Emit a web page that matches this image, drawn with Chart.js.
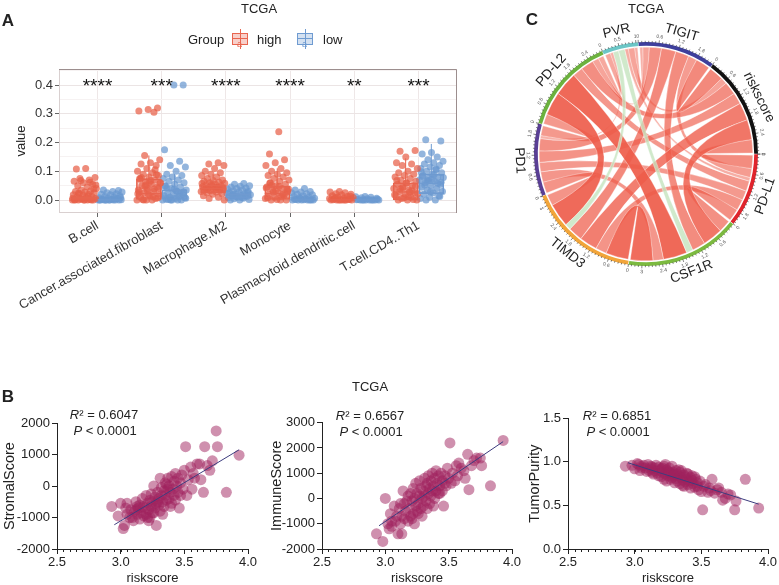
<!DOCTYPE html>
<html><head><meta charset="utf-8">
<script src="https://cdn.jsdelivr.net/npm/chart.js@4/dist/chart.umd.min.js"></script>
<style>
html,body{margin:0;padding:0;background:#fff;overflow:hidden;}
body{width:779px;height:585px;position:relative;font-family:"Liberation Sans",Arial,sans-serif;color:#222;}
canvas{position:absolute;}
.lbl{position:absolute;font-weight:bold;font-size:17px;line-height:1;transform:translate(-50%,-50%);}
.t{position:absolute;font-size:13px;line-height:1;white-space:nowrap;transform:translate(-50%,-50%);}
.tl{position:absolute;font-size:13px;line-height:1;white-space:nowrap;transform:translateY(-50%);}
.key{position:absolute;width:16px;height:20px;}
.key .wh{position:absolute;left:7.5px;top:0;width:1px;height:20px;}
.key .bx{position:absolute;left:0;top:4px;width:14px;height:10px;border:1px solid;}
.key .md{position:absolute;left:0;top:9px;width:16px;height:1px;}
.key .a{position:absolute;left:5px;top:11px;font-size:9px;line-height:1;}
</style></head><body>

<canvas id="cA" width="470" height="320" style="left:0;top:0"></canvas>
<canvas id="cC" width="299" height="300" style="left:480px;top:0"></canvas>
<canvas id="cB1" width="260" height="190" style="left:0;top:395px"></canvas>
<canvas id="cB2" width="270" height="190" style="left:260px;top:395px"></canvas>
<canvas id="cB3" width="259" height="190" style="left:520px;top:395px"></canvas>

<div class="lbl" style="left:8px;top:20px">A</div>
<div class="t" style="left:259px;top:8px">TCGA</div>
<div class="tl" style="left:188px;top:39px">Group</div>
<div class="key" style="left:232px;top:29px"><div class="wh" style="background:#E8654F"></div><div class="bx" style="border-color:#E8654F;background:rgba(232,101,79,0.3)"></div><div class="md" style="background:#E8654F"></div><div class="a" style="color:#E8654F">a</div></div>
<div class="tl" style="left:257px;top:39px">high</div>
<div class="key" style="left:297px;top:29px"><div class="wh" style="background:#6F9BD1"></div><div class="bx" style="border-color:#6F9BD1;background:rgba(111,155,209,0.3)"></div><div class="md" style="background:#6F9BD1"></div><div class="a" style="color:#6F9BD1">a</div></div>
<div class="tl" style="left:323px;top:39px">low</div>

<div class="lbl" style="left:532px;top:19px">C</div>
<div class="t" style="left:646px;top:8px">TCGA</div>

<div class="lbl" style="left:8px;top:396px">B</div>
<div class="t" style="left:370px;top:386px">TCGA</div>
<div class="t" style="left:104px;top:414px"><i>R</i>² = 0.6047</div>
<div class="t" style="left:105px;top:430px"><i>P</i> &lt; 0.0001</div>
<div class="t" style="left:370px;top:415px"><i>R</i>² = 0.6567</div>
<div class="t" style="left:371px;top:431px"><i>P</i> &lt; 0.0001</div>
<div class="t" style="left:617px;top:415px"><i>R</i>² = 0.6851</div>
<div class="t" style="left:618px;top:431px"><i>P</i> &lt; 0.0001</div>

<script>
// ---------------- DATA ----------------
// Panel A
const categories = ['B.cell','Cancer.associated.fibroblast','Macrophage.M2','Monocyte','Plasmacytoid.dendritic.cell','T.cell.CD4..Th1'];
const signifLabels = ['****','***','****','****','**','***'];
const yTicksA = [0, 0.1, 0.2, 0.3, 0.4];

const highValues = [
  [0,0,0,0,0,0,0.002,0.003,0.005,0.008,0.01,0.012,0.015,0.018,0.02,0.022,0.025,0.028,0.03,0.032,0.035,0.04,0.045,0.05,0.055,0.06,0.065,0.07,0.075,0.078,0.11,0.108,0,0.004,0.006,0.014,0.024,0.038,0,0.001,0.062,0.068,0.052],
  [0.32,0.315,0.31,0.305,0.155,0.14,0.13,0.125,0.12,0.11,0.1,0.095,0.09,0.085,0.08,0.075,0.07,0.065,0.06,0.055,0.05,0.045,0.04,0.035,0.03,0.025,0.02,0.015,0.01,0.005,0,0,0,0.002,0.008,0.018,0.028,0.038,0.048,0.058,0.068,0.078,0.088,0.035,0.022,0.012,0,0.042,0.062,0.072,0.105,0.052],
  [0.13,0.125,0.12,0.11,0.1,0.095,0.09,0.085,0.08,0.075,0.07,0.068,0.065,0.062,0.06,0.058,0.055,0.052,0.05,0.048,0.046,0.044,0.042,0.04,0.038,0.036,0.034,0.032,0.03,0.028,0.025,0.022,0.02,0.015,0.01,0.005,0,0.045,0.041,0.037,0.053,0.057,0.043,0.039],
  [0.237,0.16,0.14,0.13,0.12,0.11,0.1,0.095,0.09,0.085,0.08,0.075,0.07,0.065,0.06,0.055,0.05,0.045,0.04,0.035,0.03,0.025,0.02,0.015,0.01,0.005,0,0,0,0.002,0.008,0.018,0.028,0.038,0.048,0.058,0.022,0.032,0.042,0.012,0.052,0.035],
  [0.03,0.028,0.025,0.022,0.02,0.018,0.015,0.012,0.01,0.008,0.006,0.004,0.002,0,0,0,0,0,0,0.001,0.003,0,0.005,0,0.009,0.013],
  [0.17,0.172,0.15,0.13,0.125,0.12,0.11,0.1,0.095,0.09,0.085,0.08,0.075,0.07,0.065,0.06,0.055,0.05,0.045,0.04,0.035,0.03,0.025,0.02,0.015,0.01,0.005,0,0,0,0.002,0.008,0.018,0.028,0.038,0.048,0.058,0.068,0.032,0.042,0.022,0.012]
];
const lowValues = [
  [0,0,0,0,0,0,0,0,0.001,0.002,0.003,0.005,0.006,0.008,0.01,0.012,0.015,0.018,0.02,0.022,0.025,0.028,0.03,0.035,0.033,0,0,0.004,0,0.009],
  [0.4,0.4,0.175,0.135,0.12,0.115,0.1,0.09,0.085,0.08,0.075,0.07,0.065,0.06,0.055,0.05,0.045,0.04,0.035,0.03,0.025,0.02,0.018,0.015,0.012,0.01,0.008,0.005,0.003,0,0,0,0,0.002,0.028,0.038,0.048,0.022,0,0.006,0.032,0.042],
  [0.057,0.055,0.05,0.048,0.045,0.042,0.04,0.038,0.035,0.032,0.03,0.028,0.025,0.022,0.02,0.018,0.016,0.014,0.012,0.01,0.008,0.006,0.004,0.002,0,0,0.015,0.011,0.024,0.009,0.019,0.027],
  [0.04,0.035,0.03,0.028,0.025,0.022,0.02,0.018,0.015,0.012,0.01,0.008,0.006,0.004,0.002,0,0,0,0,0,0,0.001,0.003,0,0.005],
  [0.012,0.011,0.01,0.008,0.006,0.004,0.002,0,0,0,0,0,0,0,0.001,0,0,0.003],
  [0.21,0.205,0.165,0.16,0.15,0.14,0.135,0.13,0.125,0.12,0.115,0.11,0.105,0.1,0.095,0.09,0.085,0.08,0.075,0.07,0.065,0.06,0.055,0.05,0.045,0.04,0.035,0.03,0.025,0.02,0.015,0.01,0.005,0,0,0.062,0.072,0.082,0.058,0.068,0.078,0.088,0.052,0.012,0.028,0.098,0.108,0.066]
];
const highQ1 = [0, 0, 0.025, 0, 0, 0.001];
const highMedian = [0.003, 0.022, 0.04, 0.022, 0.001, 0.028];
const highQ3 = [0.012, 0.073, 0.053, 0.048, 0.003, 0.06];
const highWhisker = [0.03, 0.155, 0.09, 0.11, 0.008, 0.145];
const lowQ1 = [0, 0, 0.006, 0, 0, 0.022];
const lowMedian = [0.0005, 0.014, 0.014, 0.0005, 0.0002, 0.058];
const lowQ3 = [0.002, 0.036, 0.022, 0.003, 0.0005, 0.09];
const lowWhisker = [0.006, 0.09, 0.045, 0.008, 0.0012, 0.195];

// Panel C (correlation chord)
const genes = ['PVR','TIGIT','riskscore','PD-L1','CSF1R','TIMD3','PD1','PD-L2'];
const corMatrix = [
  [0,    0.10, 0.20, 0.12, -0.20, -0.18, 0.10, 0.17],
  [0.10, 0,    0.45, 0.28, 0.42,  0.45,  0.38, 0.20],
  [0.20, 0.45, 0,    0.42, 0.62,  0.55,  0.36, 0.40],
  [0.12, 0.28, 0.42, 0,    0.38,  0.35,  0.30, 0.32],
  [-0.20,0.42, 0.62, 0.38, 0,     0.70,  0.33, 0.74],
  [-0.18,0.45, 0.55, 0.35, 0.70,  0,     0.35, 0.73],
  [0.10, 0.38, 0.36, 0.30, 0.33,  0.35,  0,    0.31],
  [0.17, 0.20, 0.40, 0.32, 0.74,  0.73,  0.31, 0]
];
const geneColors = ['#6CC6C6','#3E3F9C','#111111','#E0242C','#7CBA40','#F2A53A','#5A3F95','#6CB23E'];

// Panel B
const xTicksB = [2.5, 3.0, 3.5, 4.0];
const riskscore = [3.93,3.83,3.75,3.76,3.51,3.66,3.65,3.70,3.62,3.58,
 2.93,2.98,3.00,3.02,3.03,3.05,3.04,3.07,3.08,3.10,
 3.11,3.12,3.13,3.14,3.15,3.15,3.16,3.17,3.18,3.18,
 3.19,3.20,3.20,3.21,3.22,3.22,3.23,3.24,3.24,3.25,
 3.25,3.26,3.27,3.27,3.28,3.28,3.29,3.30,3.30,3.31,
 3.31,3.32,3.32,3.33,3.34,3.34,3.35,3.35,3.36,3.37,
 3.37,3.38,3.38,3.39,3.40,3.40,3.41,3.42,3.42,3.43,
 3.44,3.45,3.45,3.46,3.47,3.48,3.49,3.50,3.52,3.53,
 3.55,3.56,3.57,3.60,3.63,3.68,3.72,3.05,3.09,3.13,
 3.21,3.26,3.29,3.33,3.36,3.39,3.43,3.47,3.12,3.23];
const stromalScore = [980,-200,1750,1250,1250,1250,-200,500,700,250,
 -650,-950,-550,-1350,-1250,-900,-700,-1000,-750,-1100,
 -800,-500,-900,-700,-1050,-600,-850,-400,-950,-650,
 -700,-300,-900,-550,-1100,-750,-450,-650,-250,-850,
 -500,0,-700,-350,-1250,-550,-200,-600,-400,250,
 -800,-300,-50,-500,-150,-650,-300,100,-450,-100,
 250,-400,0,-200,300,-550,-100,150,-300,400,
 0,-200,250,-700,100,350,-100,500,-300,200,
 600,-100,400,700,200,650,800,-550,-1000,-650,
 -1000,-850,-500,-900,50,-650,-450,-300,-750,-1000];
const immuneScore = [2300,500,1600,1300,2200,350,1750,1500,1100,1400,
 -1400,-1700,0,-1000,-1200,-1100,-600,-300,-900,-1400,
 -400,-1000,-700,300,-200,-800,-500,-100,-900,100,
 -400,-700,200,-100,-600,400,0,-300,600,-500,
 200,-200,700,100,-400,400,0,300,-300,800,
 100,500,-100,600,200,900,400,-200,700,300,
 1000,500,-300,800,300,1100,600,200,900,500,
 1000,300,700,-300,900,500,1200,800,600,1000,
 700,1300,900,1200,800,1300,1600,-900,-700,-1400,
 -800,-600,-700,-400,100,0,200,600,-200,-1000];
const tumorPurity = [0.47,0.80,0.45,0.55,0.45,0.56,0.65,0.63,0.68,0.80,
 0.95,0.96,0.92,0.98,0.97,0.95,0.90,0.96,0.93,0.97,
 0.90,0.95,0.88,0.86,0.93,0.90,0.96,0.87,0.94,0.84,
 0.90,0.92,0.83,0.88,0.95,0.80,0.86,0.91,0.78,0.89,
 0.84,0.93,0.80,0.87,0.95,0.82,0.88,0.85,0.76,0.90,
 0.81,0.86,0.78,0.84,0.88,0.75,0.82,0.90,0.79,0.85,
 0.72,0.83,0.77,0.80,0.74,0.86,0.78,0.82,0.70,0.79,
 0.75,0.83,0.71,0.80,0.76,0.68,0.78,0.66,0.72,0.74,
 0.65,0.70,0.67,0.64,0.70,0.58,0.62,0.93,0.89,0.94,
 0.93,0.88,0.84,0.91,0.73,0.87,0.84,0.72,0.92,0.97];
const fitRiskscore = [2.95, 3.93];
const stromalFit = [-1230, 1150];
const immuneFit = [-1080, 2250];
const purityFit = [0.99, 0.515];

// ---------------- RENDER ----------------
Chart.defaults.font.family = '"Liberation Sans", Arial, sans-serif';
Chart.defaults.color = '#222';
const noUI = {legend:{display:false}, tooltip:{enabled:false}};

// ===== Panel A =====
const HIGH = '#E8654F', LOW = '#6F9BD1';
const dodge = 0.2;
const jitter = (i) => (((i * 0.6180339) % 1) - 0.5) * 0.38;
const ptsFor = (vals, sign) => vals.flatMap((arr, c) => arr.map((v, i) => ({x: c + sign * dodge + jitter(i + c * 3), y: v})));

const yTickObjs = [];
yTicksA.forEach(v => { yTickObjs.push({value: v}); yTickObjs.push({value: v + 0.05, minor: true}); });

const boxPlugin = {
  id: 'boxExtras',
  afterDatasetsDraw(chart) {
    const {ctx, scales: {x, y}, chartArea: ca} = chart;
    ctx.save();
    [[0, highMedian, highQ3, highWhisker, HIGH], [1, lowMedian, lowQ3, lowWhisker, LOW]].forEach(([di, med, q3, wh, col]) => {
      chart.getDatasetMeta(di).data.forEach((bar, i) => {
        const half = bar.width / 2;
        ctx.strokeStyle = col; ctx.lineWidth = 1.2;
        const my = y.getPixelForValue(med[i]);
        ctx.beginPath(); ctx.moveTo(bar.x - half, my); ctx.lineTo(bar.x + half, my); ctx.stroke();
        ctx.lineWidth = 1;
        ctx.beginPath(); ctx.moveTo(bar.x, y.getPixelForValue(q3[i])); ctx.lineTo(bar.x, y.getPixelForValue(wh[i])); ctx.stroke();
      });
    });
    // significance stars
    ctx.fillStyle = '#111';
    ctx.font = '19px "Liberation Sans", Arial, sans-serif';
    ctx.textAlign = 'center'; ctx.textBaseline = 'middle';
    signifLabels.forEach((s, i) => ctx.fillText(s, x.getPixelForValue(i), y.getPixelForValue(0.4) + 2));
    // panel border
    ctx.lineWidth = 1;
    ctx.strokeStyle = '#d9d0d0';
    ctx.strokeRect(ca.left + 0.5, ca.top + 0.5, ca.width - 1, ca.height - 1);
    ctx.strokeStyle = '#9c8e8e';
    ctx.beginPath(); ctx.moveTo(ca.left, ca.top + 0.5); ctx.lineTo(ca.right - 0.5, ca.top + 0.5); ctx.lineTo(ca.right - 0.5, ca.bottom); ctx.stroke();
    ctx.restore();
  }
};

new Chart(document.getElementById('cA'), {
  type: 'bar',
  data: {
    datasets: [
      {type: 'bar', label: 'high', data: categories.map((c, i) => ({x: i - dodge, y: [highQ1[i], highQ3[i]]})),
        backgroundColor: 'rgba(232,101,79,0.28)', borderColor: HIGH, borderWidth: 1, borderSkipped: false, barThickness: 25, grouped: false, order: 0},
      {type: 'bar', label: 'low', data: categories.map((c, i) => ({x: i + dodge, y: [lowQ1[i], lowQ3[i]]})),
        backgroundColor: 'rgba(111,155,209,0.28)', borderColor: LOW, borderWidth: 1, borderSkipped: false, barThickness: 25, grouped: false, order: 0},
      {type: 'scatter', label: 'high points', data: ptsFor(highValues, -1), backgroundColor: 'rgba(232,96,72,0.72)', borderWidth: 0, pointRadius: 3.5, order: 1},
      {type: 'scatter', label: 'low points', data: ptsFor(lowValues, 1), backgroundColor: 'rgba(105,152,208,0.72)', borderWidth: 0, pointRadius: 3.5, order: 1}
    ]
  },
  options: {
    responsive: false, animation: false,
    layout: {padding: {top: 69, right: 13, left: 0, bottom: 0}},
    plugins: noUI,
    scales: {
      x: {type: 'linear', min: -0.6, max: 5.6, offset: false,
        afterBuildTicks: s => { s.ticks = categories.map((c, i) => ({value: i})); },
        ticks: {callback: v => categories[v], minRotation: 30, maxRotation: 30, autoSkip: false, font: {size: 13}, color: '#333', padding: 1},
        grid: {offset: false, color: '#eee7e7', tickLength: 4, tickColor: '#666'},
        border: {display: false},
        afterFit: s => { s.height = 107; }
      },
      y: {type: 'linear', min: -0.0452, max: 0.4557,
        afterBuildTicks: s => { s.ticks = yTickObjs.map(t => Object.assign({}, t)); },
        ticks: {callback: (v, i, t) => t[i] && t[i].minor ? '' : v.toFixed(1), font: {size: 13}, color: '#333', padding: 2, autoSkip: false},
        grid: {color: c => c.tick && c.tick.minor ? '#f6f2f2' : '#ebe4e4', tickLength: 4, tickColor: c => c.tick && c.tick.minor ? 'rgba(0,0,0,0)' : '#666'},
        border: {display: false},
        title: {display: true, text: 'value', font: {size: 13}, color: '#222', padding: {top: 14, bottom: 0}},
        afterFit: s => { s.width = 59; }
      }
    }
  },
  plugins: [boxPlugin]
});

// ===== Panel C =====
const nG = genes.length;
const rowSums = corMatrix.map(r => r.reduce((a, v) => a + Math.abs(v), 0));
const maxCor = Math.max(...corMatrix.flat().map(Math.abs));

function tangentText(ctx, text, cx, cy, r, ang) {
  const x = cx + r * Math.cos(ang), y = cy + r * Math.sin(ang);
  let rot = ang + Math.PI / 2;
  const th = ((rot % (2 * Math.PI)) + 2 * Math.PI) % (2 * Math.PI);
  if (th > Math.PI / 2 && th < 3 * Math.PI / 2) rot += Math.PI;
  ctx.save(); ctx.translate(x, y); ctx.rotate(rot);
  ctx.textAlign = 'center'; ctx.textBaseline = 'middle';
  ctx.fillText(text, 0, 0); ctx.restore();
}

const chordPlugin = {
  id: 'chord',
  beforeDatasetsDraw(chart) {
    const arcs = chart.getDatasetMeta(0).data;
    if (!arcs.length) return;
    const {ctx} = chart;
    const cx = arcs[0].x, cy = arcs[0].y, r = arcs[0].innerRadius - 0.8;
    const slots = {};
    arcs.forEach((arc, i) => {
      const pad = 0.01;
      const s = arc.startAngle + pad, e = arc.endAngle - pad;
      let cur = s;
      for (let k = 1; k < nG; k++) {
        const j = (i - k + nG) % nG;
        const w = Math.abs(corMatrix[i][j]) / rowSums[i] * (e - s);
        slots[i + '-' + j] = [cur, cur + w];
        cur += w;
      }
    });
    const links = [];
    for (let i = 0; i < nG; i++) for (let j = i + 1; j < nG; j++) links.push([i, j, corMatrix[i][j]]);
    links.sort((a, b) => (a[2] < 0) - (b[2] < 0) || Math.abs(a[2]) - Math.abs(b[2]));
    const P = a => [cx + r * Math.cos(a), cy + r * Math.sin(a)];
    ctx.save();
    links.forEach(([i, j, v]) => {
      const [a1, a2] = slots[i + '-' + j], [b1, b2] = slots[j + '-' + i];
      ctx.beginPath();
      ctx.moveTo(...P(a1));
      ctx.arc(cx, cy, r, a1, a2);
      ctx.quadraticCurveTo(cx, cy, ...P(b1));
      ctx.arc(cx, cy, r, b1, b2);
      ctx.quadraticCurveTo(cx, cy, ...P(a1));
      ctx.closePath();
      if (v < 0) {
        ctx.fillStyle = 'rgba(196,228,190,0.8)';
      } else {
        const al = 0.42 + 0.5 * Math.abs(v) / maxCor;
        ctx.fillStyle = `rgba(238,92,74,${al.toFixed(3)})`;
      }
      ctx.fill();
      ctx.strokeStyle = 'rgba(255,255,255,0.5)'; ctx.lineWidth = 0.7; ctx.stroke();
    });
    ctx.restore();
  },
  afterDatasetsDraw(chart) {
    const arcs = chart.getDatasetMeta(0).data;
    const {ctx} = chart;
    const cx = arcs[0].x, cy = arcs[0].y, R = arcs[0].outerRadius;
    ctx.save();
    arcs.forEach((arc, i) => {
      const s = arc.startAngle, e = arc.endAngle, tot = rowSums[i];
      const step = tot < 1.5 ? 0.5 : 0.6;
      ctx.strokeStyle = '#333'; ctx.lineWidth = 0.6;
      for (let k = 0; k * 0.1 <= tot + 1e-9; k++) {
        const a = s + (k * 0.1) / tot * (e - s);
        const isMajor = Math.abs((k * 0.1) / step - Math.round((k * 0.1) / step)) < 1e-6;
        const len = isMajor ? 3 : 1.8;
        ctx.beginPath();
        ctx.moveTo(cx + R * Math.cos(a), cy + R * Math.sin(a));
        ctx.lineTo(cx + (R + len) * Math.cos(a), cy + (R + len) * Math.sin(a));
        ctx.stroke();
        if (isMajor) {
          ctx.fillStyle = '#555';
          ctx.font = '5px "Liberation Sans", Arial, sans-serif';
          const val = +(k * 0.1).toFixed(1);
          tangentText(ctx, String(val), cx, cy, R + 6.5, a);
        }
      }
      ctx.fillStyle = '#222';
      ctx.font = '13.5px "Liberation Sans", Arial, sans-serif';
      tangentText(ctx, genes[i], cx, cy, R + 15, (s + e) / 2);
    });
    ctx.restore();
  }
};

new Chart(document.getElementById('cC'), {
  type: 'doughnut',
  data: {labels: genes, datasets: [{data: rowSums, backgroundColor: geneColors, borderWidth: 0, hoverOffset: 0}]},
  options: {
    responsive: false, animation: false,
    rotation: -23, cutout: '96.6%', spacing: 1.2,
    layout: {padding: {left: 54, right: 21, top: 42, bottom: 34}},
    plugins: noUI
  },
  plugins: [chordPlugin]
});

// ===== Panel B =====
const minorTicks = {
  id: 'minorTicks',
  afterDraw(chart) {
    const xs = chart.scales.x, ctx = chart.ctx;
    ctx.save(); ctx.strokeStyle = '#222'; ctx.lineWidth = 1;
    for (let k = 0; k <= 30; k++) {
      const px = Math.round(xs.getPixelForValue(2.5 + k * 0.05)) + 0.5;
      ctx.beginPath(); ctx.moveTo(px, xs.top); ctx.lineTo(px, xs.top + 3); ctx.stroke();
    }
    ctx.restore();
  }
};

function scatterPanel(id, yVals, fitY, yTicks, yTitle, decimals, pad, axisW) {
  new Chart(document.getElementById(id), {
    type: 'scatter',
    data: {datasets: [
      {type: 'line', data: fitRiskscore.map((x, i) => ({x, y: fitY[i]})), borderColor: '#3c3c7e', borderWidth: 1, pointRadius: 0, order: 0, clip: false},
      {data: riskscore.map((x, i) => ({x, y: yVals[i]})), backgroundColor: 'rgba(160,34,94,0.5)', borderWidth: 0, pointRadius: 5.5, order: 1, clip: false}
    ]},
    options: {
      responsive: false, animation: false,
      layout: {padding: pad},
      plugins: noUI,
      scales: {
        x: {type: 'linear', min: 2.5, max: 4.0,
          afterBuildTicks: s => { s.ticks = xTicksB.map(v => ({value: v})); },
          ticks: {callback: v => v.toFixed(1), font: {size: 13}, color: '#222', padding: 1, maxRotation: 0, autoSkip: false},
          grid: {drawOnChartArea: false, tickLength: 5, tickColor: '#222'},
          border: {color: '#222', width: 1},
          title: {display: true, text: 'riskscore', font: {size: 13, lineHeight: 1}, color: '#222', padding: 0},
          afterFit: s => { s.height = 36; }
        },
        y: {type: 'linear', min: yTicks[0], max: yTicks[yTicks.length - 1],
          afterBuildTicks: s => { s.ticks = yTicks.map(v => ({value: v})); },
          ticks: {callback: v => v.toFixed(decimals), font: {size: 13}, color: '#222', padding: 2, autoSkip: false},
          grid: {drawOnChartArea: false, tickLength: 5, tickColor: '#222'},
          border: {color: '#222', width: 1},
          title: {display: true, text: yTitle, font: {size: 14.5}, color: '#222', padding: {top: 1.3, bottom: 0}},
          afterFit: s => { s.width = axisW; }
        }
      }
    },
    plugins: [minorTicks]
  });
}

scatterPanel('cB1', stromalScore, stromalFit, [-2000, -1000, 0, 1000, 2000], 'StromalScore', 0, {left: 0, top: 28, right: 12, bottom: 0}, 57);
scatterPanel('cB2', immuneScore, immuneFit, [-2000, -1000, 0, 1000, 2000, 3000], 'ImmuneScore', 0, {left: 7, top: 27.7, right: 18, bottom: 0}, 55);
scatterPanel('cB3', tumorPurity, purityFit, [0, 0.5, 1.0, 1.5], 'TumorPurity', 1, {left: 5, top: 23.3, right: 11, bottom: 0}, 43);
</script>
</body></html>
